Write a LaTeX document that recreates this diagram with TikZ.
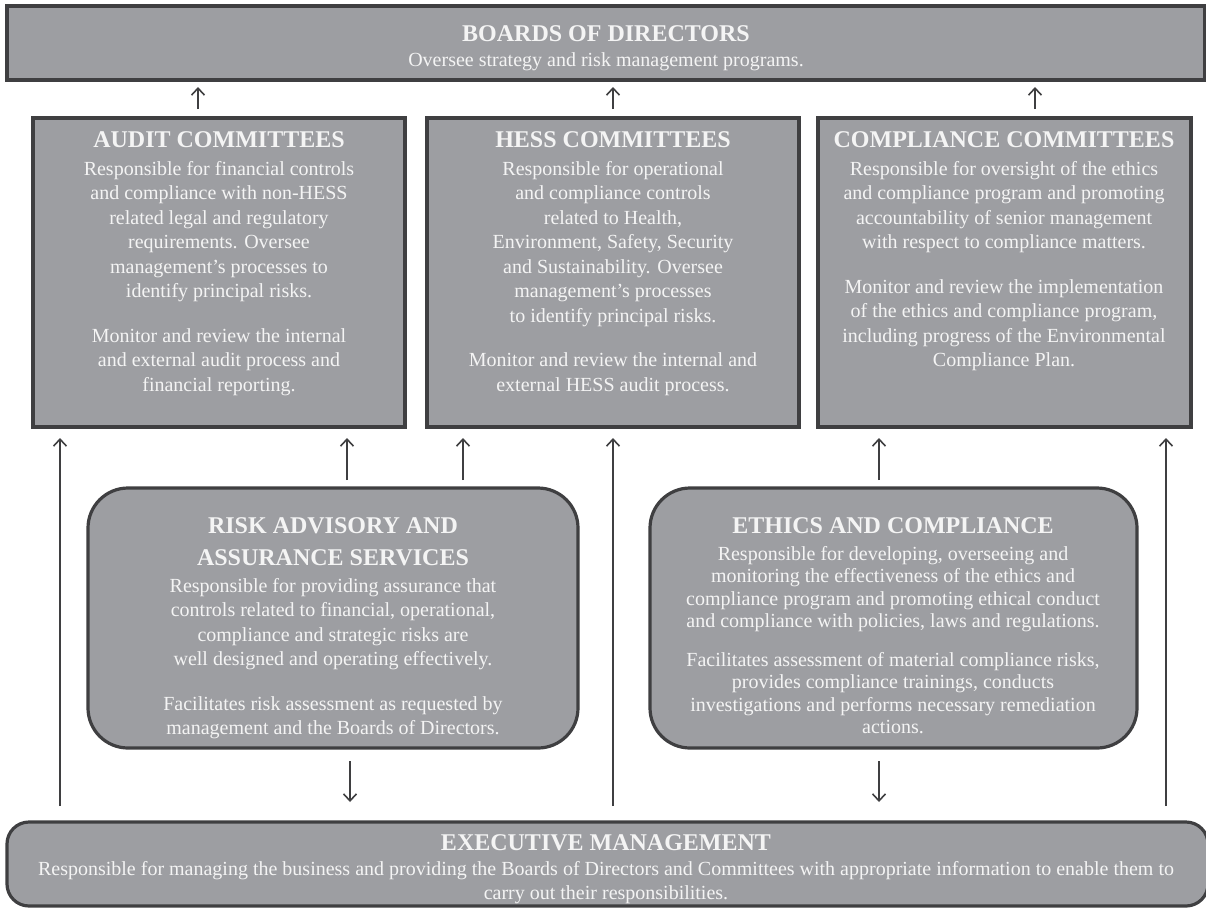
\documentclass[tikz,border=0pt]{standalone}
\usepackage{fontspec}
\setmainfont{Liberation Serif}
\usetikzlibrary{arrows.meta}
\definecolor{boxfill}{HTML}{9D9EA2}
\definecolor{boxline}{HTML}{3F3F41}
\definecolor{txt}{HTML}{F4F4F4}
\tikzset{
  sqbox/.style={draw=boxline, fill=boxfill, line width=3.2pt},
  rdbox/.style={draw=boxline, fill=boxfill, line width=3.2pt, rounded corners=40pt},
  exbox/.style={draw=boxline, fill=boxfill, line width=3.2pt, rounded corners=22pt},
  body/.style={text=txt, align=center, inner sep=0pt, anchor=north, font=\fontsize{20}{24.5}\selectfont},
  bodyt/.style={body, font=\fontsize{20}{22.5}\selectfont},
  ttl/.style={text=txt, align=center, inner sep=0pt, anchor=north, font=\fontsize{24}{32}\selectfont\bfseries},
  arr/.style={draw=boxline, line width=1.8pt, -{Straight Barb[length=7pt,width=13pt,line width=1.6pt]}}
}
\begin{document}
\begin{tikzpicture}[x=1pt,y=-1pt]
\useasboundingbox (0,0) rectangle (1206,908);
\clip (0,0) rectangle (1206,908);
% boxes
\path[sqbox] (7,6) rectangle (1205,80);
\path[sqbox] (33,118) rectangle (405,427);
\path[sqbox] (427,118) rectangle (799,427);
\path[sqbox] (818,118) rectangle (1191,427);
\path[rdbox] (88,488) rectangle (578,748);
\path[rdbox] (650,488) rectangle (1137,748);
\path[exbox] (7,822) rectangle (1208,906);

% board text
\node[ttl] (bt) at (606,25) {BOARDS OF DIRECTORS};
\node[body] (bb) at (606,52) {Oversee strategy and risk management programs.};

% audit
\node[ttl] (at) at (219,131) {AUDIT COMMITTEES};
\node[body] (ab) at (219,161) {Responsible for financial controls\\and compliance with non-HESS\\related legal and regulatory\\requirements. Oversee\\management’s processes to\\identify principal risks.\\[20pt]Monitor and review the internal\\and external audit process and\\financial reporting.};

% hess
\node[ttl] (ht) at (613,131) {HESS COMMITTEES};
\node[body] (hb) at (613,161) {Responsible for operational\\and compliance controls\\related to Health,\\Environment, Safety, Security\\and Sustainability. Oversee\\management’s processes\\to identify principal risks.\\[20pt]Monitor and review the internal and\\external HESS audit process.};

% compliance
\node[ttl] (ct) at (1004,131) {COMPLIANCE COMMITTEES};
\node[body] (cb) at (1004,161) {Responsible for oversight of the ethics\\and compliance program and promoting\\accountability of senior management\\with respect to compliance matters.\\[20pt]Monitor and review the implementation\\of the ethics and compliance program,\\including progress of the Environmental\\Compliance Plan.};

% risk
\node[ttl] (rt) at (333,517) {RISK ADVISORY AND\\ASSURANCE SERVICES};
\node[body] (rb) at (333,578) {Responsible for providing assurance that\\controls related to financial, operational,\\compliance and strategic risks are\\well designed and operating effectively.\\[20pt]Facilitates risk assessment as requested by\\management and the Boards of Directors.};

% ethics
\node[ttl] (et) at (893,517) {ETHICS AND COMPLIANCE};
\node[bodyt] (eb) at (893,546) {Responsible for developing, overseeing and\\monitoring the effectiveness of the ethics and\\compliance program and promoting ethical conduct\\and compliance with policies, laws and regulations.\\[16pt]Facilitates assessment of material compliance risks,\\provides compliance trainings, conducts\\investigations and performs necessary remediation\\actions.};

% exec
\node[ttl] (xt) at (606,834) {EXECUTIVE MANAGEMENT};
\node[body] (xb) at (606,861) {Responsible for managing the business and providing the Boards of Directors and Committees with appropriate information to enable them to\\carry out their responsibilities.};

% arrow endpoints
\coordinate (a1s) at (198,109); \coordinate (a1e) at (198,87);
\coordinate (a2s) at (613,109); \coordinate (a2e) at (613,87);
\coordinate (a3s) at (1035,109); \coordinate (a3e) at (1035,87);
\coordinate (l1s) at (60,806); \coordinate (l1e) at (60,438);
\coordinate (l2s) at (613,806); \coordinate (l2e) at (613,438);
\coordinate (l3s) at (1166,806); \coordinate (l3e) at (1166,438);
\coordinate (s1s) at (347,480); \coordinate (s1e) at (347,438);
\coordinate (s2s) at (463,480); \coordinate (s2e) at (463,438);
\coordinate (s3s) at (879,480); \coordinate (s3e) at (879,438);
\coordinate (d1s) at (350,761); \coordinate (d1e) at (350,802);
\coordinate (d2s) at (879,761); \coordinate (d2e) at (879,802);

\draw[arr] (a1s) -- (a1e);
\draw[arr] (a2s) -- (a2e);
\draw[arr] (a3s) -- (a3e);
\draw[arr] (l1s) -- (l1e);
\draw[arr] (l2s) -- (l2e);
\draw[arr] (l3s) -- (l3e);
\draw[arr] (s1s) -- (s1e);
\draw[arr] (s2s) -- (s2e);
\draw[arr] (s3s) -- (s3e);
\draw[arr] (d1s) -- (d1e);
\draw[arr] (d2s) -- (d2e);
\end{tikzpicture}
\end{document}
